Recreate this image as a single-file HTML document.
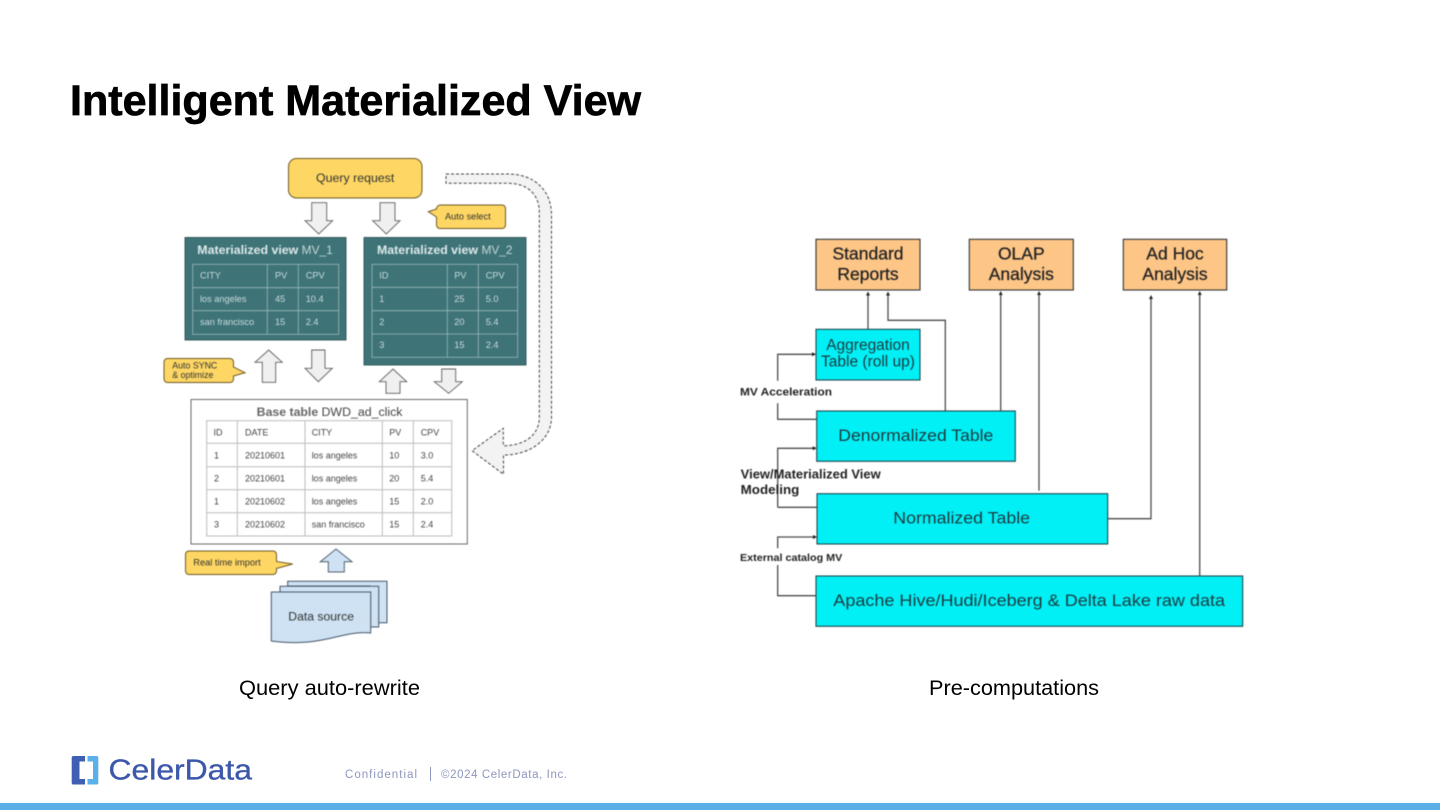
<!DOCTYPE html>
<html><head><meta charset="utf-8"><title>Intelligent Materialized View</title>
<style>
html,body{margin:0;padding:0;background:#fff;width:1440px;height:810px;overflow:hidden}
svg{display:block}
text{font-family:"Liberation Sans",sans-serif}
.soft{filter:blur(.45px)}
.t{font-size:9.200px;fill:#c9dcdc}
.b{font-size:9px;fill:#444}
.a{fill:#f0f0f0;stroke:#5f5f5f;stroke-width:.9}
.y{fill:#fdd663;stroke:#6f5a24;stroke-width:1}
.g{fill:none;stroke:#9bb9b9;stroke-width:.8}
.h{fill:none;stroke:#bdbdbd;stroke-width:1}
.o{fill:#fdc687;stroke:#333;stroke-width:1.100}
.c{fill:#00f0f5;stroke:#1c4b50;stroke-width:1.100}
.rt{fill:#222;font-size:17.500px;text-anchor:middle;stroke:#222;stroke-width:.25}
.l{fill:none;stroke:#4c4c4c;stroke-width:1.300}
.ah{fill:#222}
.lab{fill:#222;font-weight:bold}
</style></head><body>
<svg width="1440" height="810" viewBox="0 0 1440 810" xmlns="http://www.w3.org/2000/svg">
<rect width="1440" height="810" fill="#fff"/>
<text x="70" y="115" font-size="43" font-weight="bold" fill="#000" stroke="#000" stroke-width=".7" textLength="571" lengthAdjust="spacingAndGlyphs">Intelligent Materialized View</text>

<g class="soft">
<!-- Query request -->
<rect class="y" x="288.500" y="158.500" width="133.500" height="39.500" rx="8"/>
<text x="316" y="182" font-size="11.500" fill="#333" textLength="78.300" lengthAdjust="spacingAndGlyphs">Query request</text>

<!-- dashed arrow -->
<path d="M446 174 H508 C534 174 551.500 190 551.500 215 V417 C551.500 440 530 455 503.500 455 V474.300 L472 450.700 L503.300 428.300 V445.700 C525 445.700 539.300 435 539.300 417 V212 C539.300 195 528 183.300 508 183.300 H446 Z" fill="#f3f3f3" stroke="#444" stroke-width="1" stroke-dasharray="3 2"/>

<!-- arrows -->
<path class="a" d="M311.700 202.700H326.700V220.700H332.700L318.700 234L305 220.700H311.700Z"/>
<path class="a" d="M380 202.700H395V220.700H400L386.300 234L372.700 220.700H380Z"/>
<path class="a" d="M268.700 350L282.300 362.300H275.700V382.300H262.300V362.300H255Z"/>
<path class="a" d="M311.700 350H325V368.300H332.300L318.300 381.700L305 368.300H311.700Z"/>
<path class="a" d="M393 369L406.700 381.700H400V393.300H386V381.700H379.300Z"/>
<path class="a" d="M441.700 369H455.700V381.700H462.300L448.700 393.300L434.300 381.700H441.700Z"/>
<path d="M336 549L352 561.700H344.300V572H328.300V561.700H320.300Z" fill="#cfe2f3" stroke="#50606e" stroke-width="1"/>

<!-- callouts -->
<path class="y" d="M440 205H502a3.500 3.500 0 0 1 3.500 3.500V225a3.500 3.500 0 0 1-3.500 3.500H440a3.500 3.500 0 0 1-3.500-3.500V217L428.300 211.700L436.500 209A4 4 0 0 1 440 205Z"/>
<text x="445" y="219.300" font-size="9" fill="#333" textLength="45.700" lengthAdjust="spacingAndGlyphs">Auto select</text>
<path class="y" d="M167.500 358.500H230a3.500 3.500 0 0 1 3.500 3.500V367L245 372.700L233.500 376V379a3.500 3.500 0 0 1-3.500 3.500H167.500a3.500 3.500 0 0 1-3.500-3.500V362a3.500 3.500 0 0 1 3.500-3.500Z"/>
<text x="172.300" y="368.300" font-size="8.800" fill="#333">Auto SYNC</text>
<text x="172.300" y="378" font-size="8.800" fill="#333">&amp; optimize</text>
<path class="y" d="M189 551H273a3.500 3.500 0 0 1 3.500 3.500V561.500L292.700 564L276.500 568.500V571a3.500 3.500 0 0 1-3.500 3.500H189a3.500 3.500 0 0 1-3.500-3.500V554.500a3.500 3.500 0 0 1 3.500-3.500Z"/>
<text x="193.300" y="565.700" font-size="9" fill="#333" textLength="67.400" lengthAdjust="spacingAndGlyphs">Real time import</text>

<!-- MV1 -->
<rect x="185" y="237.500" width="161" height="102.500" fill="#3e7378" stroke="#2c5457" stroke-width=".9"/>
<text x="197.300" y="254" font-size="11.500" font-weight="bold" fill="#dfeaea" textLength="101" lengthAdjust="spacingAndGlyphs">Materialized view</text>
<text x="301.700" y="254" font-size="11.500" fill="#c4d8d8" textLength="31" lengthAdjust="spacingAndGlyphs">MV_1</text>
<rect class="g" x="192.700" y="264.300" width="146" height="70"/>
<path class="g" d="M267.300 264.300V334.300M298.300 264.300V334.300M192.700 287.700H338.700M192.700 310.700H338.700"/>
<text class="t" x="200" y="278.300">CITY</text><text class="t" x="275" y="278.300">PV</text><text class="t" x="305.700" y="278.300">CPV</text>
<text class="t" x="200" y="302">los angeles</text><text class="t" x="275" y="302">45</text><text class="t" x="305.700" y="302">10.4</text>
<text class="t" x="200" y="325">san francisco</text><text class="t" x="275" y="325">15</text><text class="t" x="305.700" y="325">2.4</text>

<!-- MV2 -->
<rect x="364" y="237.500" width="162" height="127.500" fill="#3e7378" stroke="#2c5457" stroke-width=".9"/>
<text x="377" y="254" font-size="11.500" font-weight="bold" fill="#dfeaea" textLength="101" lengthAdjust="spacingAndGlyphs">Materialized view</text>
<text x="481.500" y="254" font-size="11.500" fill="#c4d8d8" textLength="31" lengthAdjust="spacingAndGlyphs">MV_2</text>
<rect class="g" x="372" y="264.300" width="145.700" height="93"/>
<path class="g" d="M447.300 264.300V357.300M478.300 264.300V357.300M372 287.300H517.700M372 310.700H517.700M372 334H517.700"/>
<text class="t" x="379.300" y="278.300">ID</text><text class="t" x="454.300" y="278.300">PV</text><text class="t" x="485.700" y="278.300">CPV</text>
<text class="t" x="379.300" y="302">1</text><text class="t" x="454.300" y="302">25</text><text class="t" x="485.700" y="302">5.0</text>
<text class="t" x="379.300" y="325">2</text><text class="t" x="454.300" y="325">20</text><text class="t" x="485.700" y="325">5.4</text>
<text class="t" x="379.300" y="348">3</text><text class="t" x="454.300" y="348">15</text><text class="t" x="485.700" y="348">2.4</text>

<!-- Base table -->
<rect x="191" y="399.500" width="276.300" height="144.500" fill="#fff" stroke="#6a6a6a" stroke-width="1"/>
<text x="256.700" y="416" font-size="11.500" font-weight="bold" fill="#666" textLength="61.500" lengthAdjust="spacingAndGlyphs">Base table</text>
<text x="321.500" y="416" font-size="11.500" fill="#444" textLength="81" lengthAdjust="spacingAndGlyphs">DWD_ad_click</text>
<rect class="h" x="206.700" y="420.700" width="245" height="115.300"/>
<path class="h" d="M237.300 420.700V536M305 420.700V536M382.300 420.700V536M413.300 420.700V536M206.700 443.300H451.700M206.700 466.700H451.700M206.700 489.700H451.700M206.700 512.700H451.700"/>
<text class="b" x="213.500" y="435.300">ID</text><text class="b" x="245" y="435.300">DATE</text><text class="b" x="311.700" y="435.300">CITY</text><text class="b" x="389.300" y="435.300">PV</text><text class="b" x="420.700" y="435.300">CPV</text>
<text class="b" x="214" y="458.300">1</text><text class="b" x="245" y="458.300">20210601</text><text class="b" x="311.700" y="458.300">los angeles</text><text class="b" x="389.300" y="458.300">10</text><text class="b" x="420.700" y="458.300">3.0</text>
<text class="b" x="214" y="481.300">2</text><text class="b" x="245" y="481.300">20210601</text><text class="b" x="311.700" y="481.300">los angeles</text><text class="b" x="389.300" y="481.300">20</text><text class="b" x="420.700" y="481.300">5.4</text>
<text class="b" x="214" y="504.300">1</text><text class="b" x="245" y="504.300">20210602</text><text class="b" x="311.700" y="504.300">los angeles</text><text class="b" x="389.300" y="504.300">15</text><text class="b" x="420.700" y="504.300">2.0</text>
<text class="b" x="214" y="527.300">3</text><text class="b" x="245" y="527.300">20210602</text><text class="b" x="311.700" y="527.300">san francisco</text><text class="b" x="389.300" y="527.300">15</text><text class="b" x="420.700" y="527.300">2.4</text>

<!-- Data source -->
<path d="M287.700 581.300H387V622.700H370V586H287.700Z" fill="#cfe2f3" stroke="#44566a" stroke-width="1"/>
<path d="M280 586.300H378.700V627H370V592H280Z" fill="#cfe2f3" stroke="#44566a" stroke-width="1"/>
<path d="M271.300 592H370.700V633C340 630 325 648 271.300 641Z" fill="#cfe2f3" stroke="#44566a" stroke-width="1"/>
<text x="288.300" y="620.700" font-size="11.500" fill="#333" textLength="65.700" lengthAdjust="spacingAndGlyphs">Data source</text>

<!-- RIGHT DIAGRAM -->
<rect class="o" x="816" y="239.300" width="104" height="50.700"/>
<rect class="o" x="969.300" y="239.300" width="104" height="50.700"/>
<rect class="o" x="1123.300" y="239.300" width="103.400" height="50.700"/>
<text class="rt" x="868" y="259.300">Standard</text><text class="rt" x="868" y="280">Reports</text>
<text class="rt" x="1021.300" y="259.300">OLAP</text><text class="rt" x="1021.300" y="280">Analysis</text>
<text class="rt" x="1175" y="259.300">Ad Hoc</text><text class="rt" x="1175" y="280">Analysis</text>

<!-- connectors -->
<path class="l" d="M868 329.300V294M945.300 411V320.300H888V295M1000.700 411V294M1039 490.700V294M1107.700 518.700H1151V298M1199.700 576V294"/>
<path class="l" d="M777.700 380.700V354.300H814M777.700 403.300V419.300H816.700M777.700 507.300V448.300H814M777.700 507.300H817M777.700 548.300V537H814M777.700 565V595.700H816"/>
<path class="ah" d="M868 291.500l-2 4h4zM888 291.500l-2 4h4zM1000.700 291l-2 4h4zM1039 291l-2 4h4zM1151 295l-2 4h4zM1199.700 291l-2 4h4zM816 354.300l-4-2v4zM816.700 448.300l-4-2v4zM817 537l-4-2v4z"/>

<rect class="c" x="816" y="329.300" width="104" height="50.700"/>
<text x="868" y="350" font-size="15.500" fill="#1d3a40" text-anchor="middle">Aggregation</text>
<text x="868" y="366.700" font-size="15.500" fill="#1d3a40" text-anchor="middle">Table (roll up)</text>
<rect class="c" x="816.700" y="411" width="198.600" height="50.300"/>
<text x="838.300" y="441" font-size="17" fill="#1d3a40" textLength="155" lengthAdjust="spacingAndGlyphs">Denormalized Table</text>
<rect class="c" x="817" y="493.700" width="290.700" height="50.300"/>
<text x="893.300" y="523.300" font-size="17" fill="#1d3a40" textLength="136.700" lengthAdjust="spacingAndGlyphs">Normalized Table</text>
<rect class="c" x="816" y="576" width="426.700" height="50.300"/>
<text x="833.300" y="606" font-size="17" fill="#1d3a40" textLength="391.700" lengthAdjust="spacingAndGlyphs">Apache Hive/Hudi/Iceberg &amp; Delta Lake raw data</text>

<text class="lab" x="740" y="395.300" font-size="11" textLength="92" lengthAdjust="spacingAndGlyphs">MV Acceleration</text>
<text class="lab" x="740.700" y="478.300" font-size="12.500" textLength="140" lengthAdjust="spacingAndGlyphs">View/Materialized View</text>
<text class="lab" x="740.700" y="494" font-size="12.500" textLength="58.600" lengthAdjust="spacingAndGlyphs">Modeling</text>
<text class="lab" x="740" y="561" font-size="10.500" textLength="102.300" lengthAdjust="spacingAndGlyphs">External catalog MV</text>
</g>

<!-- Captions -->
<text x="239" y="695" font-size="21" fill="#000" textLength="181" lengthAdjust="spacingAndGlyphs">Query auto-rewrite</text>
<text x="929" y="695" font-size="21" fill="#000" textLength="170" lengthAdjust="spacingAndGlyphs">Pre-computations</text>

<!-- Footer -->
<path d="M73.500 756H85V761.500H79.500V779H85V784.500H73.500A1.800 1.800 0 0 1 71.700 782.700V757.800A1.800 1.800 0 0 1 73.500 756Z" fill="#3f5fb5"/>
<path d="M87.500 756H96.500A1.800 1.800 0 0 1 98.300 757.800V782.700A1.800 1.800 0 0 1 96.500 784.500H87.500V779H93V761.500H87.500Z" fill="#5ab0e8"/>
<text x="108.500" y="779.500" font-size="29" fill="#3d58ab" stroke="#3d58ab" stroke-width=".35" textLength="143.500" lengthAdjust="spacingAndGlyphs">CelerData</text>
<text x="345" y="778" font-size="11.500" fill="#8f96bd" textLength="72" lengthAdjust="spacing">Confidential</text>
<rect x="430" y="767" width="1" height="14" fill="#8f96bd"/>
<text x="441" y="778" font-size="11.500" fill="#8f96bd" textLength="126" lengthAdjust="spacing">©2024 CelerData, Inc.</text>
<rect x="0" y="803" width="1440" height="7" fill="#5ab0e6"/>
</svg>
</body></html>
